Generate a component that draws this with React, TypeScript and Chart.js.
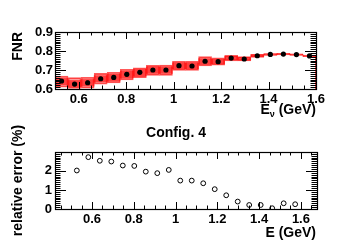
import React, { useEffect, useRef } from "react";
import { Chart, registerables } from "chart.js";
Chart.register(...registerables);

// ---------- data ----------
const energies = [0.5275, 0.5825, 0.6375, 0.6925, 0.7475, 0.8025, 0.8575, 0.9125, 0.9675, 1.0225,
  1.0775, 1.1325, 1.1875, 1.2425, 1.2975, 1.3525, 1.4075, 1.4625, 1.5175, 1.5725];
const fnr = [0.642, 0.626, 0.633, 0.654, 0.661, 0.677, 0.688, 0.700, 0.700, 0.723,
  0.721, 0.746, 0.744, 0.763, 0.758, 0.775, 0.782, 0.784, 0.781, 0.774];
const fnrErr = [0.009, 0.009, 0.009, 0.008, 0.008, 0.008, 0.007, 0.007, 0.007, 0.007,
  0.006, 0.006, 0.006, 0.005, 0.005, 0.004, 0.004, 0.004, 0.004, 0.004];
const bandOuterLo = [0.610, 0.603, 0.604, 0.625, 0.632, 0.648, 0.660, 0.672, 0.672, 0.698,
  0.698, 0.722, 0.726, 0.748, 0.748, 0.766, 0.777, 0.780, 0.777, 0.770];
const bandOuterHi = [0.668, 0.660, 0.662, 0.682, 0.688, 0.704, 0.712, 0.724, 0.726, 0.746,
  0.745, 0.770, 0.764, 0.777, 0.770, 0.783, 0.787, 0.788, 0.785, 0.778];
const bandInnerLo = [0.622, 0.612, 0.615, 0.636, 0.642, 0.658, 0.668, 0.682, 0.682, 0.706,
  0.706, 0.730, 0.732, 0.754, 0.752, 0.770, 0.779, 0.782, 0.779, 0.772];
const bandInnerHi = [0.656, 0.645, 0.650, 0.670, 0.678, 0.694, 0.704, 0.716, 0.716, 0.738,
  0.736, 0.760, 0.756, 0.772, 0.766, 0.780, 0.785, 0.786, 0.783, 0.776];
const relErr = [2.02, 2.72, 2.53, 2.49, 2.28, 2.26, 1.96, 1.88, 2.05, 1.49,
  1.49, 1.35, 1.04, 0.72, 0.39, 0.21, 0.21, 0.04, 0.30, 0.25];

const topXTicks = [0.6, 0.8, 1, 1.2, 1.4, 1.6];
const topYTicks = [0.6, 0.7, 0.8, 0.9];
const botXTicks = [0.6, 0.8, 1, 1.2, 1.4, 1.6];
const botYTicks = [0, 1, 2];

const TOP_X_RANGE = [0.5, 1.6];
const TOP_Y_RANGE = [0.6, 0.9];
const BOT_X_RANGE = [0.423, 1.677];
const BOT_Y_RANGE = [0, 2.99];

const FAMILY = '"Liberation Sans", Arial, Helvetica, sans-serif';
const fmt = (v: number) => String(Number(Number(v).toFixed(2)));

// ---------- plugins ----------
const framePlugin = {
  id: "rootFrame",
  afterDatasetsDraw(chart: any, _args: any, opts: any) {
    const { ctx, chartArea: a, scales } = chart;
    ctx.save();
    ctx.strokeStyle = "#000";
    ctx.lineWidth = 1;
    const draw = (scale: any, major: number, minor: number, majLen: number, minLen: number, horiz: boolean) => {
      const start = Math.ceil(scale.min / minor - 1e-6);
      const end = Math.floor(scale.max / minor + 1e-6);
      for (let k = start; k <= end; k++) {
        const v = k * minor;
        const isMajor = Math.abs(v / major - Math.round(v / major)) < 1e-6;
        const len = isMajor ? majLen : minLen;
        const p = Math.round(scale.getPixelForValue(v)) + 0.5;
        ctx.beginPath();
        if (horiz) {
          ctx.moveTo(p, a.bottom); ctx.lineTo(p, a.bottom - len);
          ctx.moveTo(p, a.top); ctx.lineTo(p, a.top + len);
        } else {
          ctx.moveTo(a.left, p); ctx.lineTo(a.left + len, p);
          ctx.moveTo(a.right, p); ctx.lineTo(a.right - len, p);
        }
        ctx.stroke();
      }
    };
    draw(scales.x, opts.xMajor, opts.xMinor, opts.xLen, opts.xLen / 2, true);
    draw(scales.y, opts.yMajor, opts.yMinor, opts.yLen, opts.yLen / 2, false);
    ctx.lineWidth = 1.2;
    ctx.strokeRect(Math.round(a.left) + 0.5, Math.round(a.top) + 0.5,
      Math.round(a.right - a.left), Math.round(a.bottom - a.top));
    ctx.restore();
  },
};

const textPlugin = {
  id: "rootText",
  afterDraw(chart: any, _args: any, opts: any) {
    const ctx = chart.ctx;
    for (const it of opts.items || []) {
      ctx.save();
      ctx.fillStyle = "#000";
      ctx.textBaseline = "alphabetic";
      ctx.translate(it.x, it.y);
      if (it.rotate) ctx.rotate(it.rotate);
      const parts = it.parts || [{ text: it.text, size: it.size || 14, dy: 0 }];
      const widths = parts.map((p: any) => {
        ctx.font = `bold ${p.size}px ${FAMILY}`;
        return ctx.measureText(p.text).width;
      });
      const total = widths.reduce((s: number, w: number) => s + w, 0);
      let x = it.align === "right" ? -total : it.align === "center" ? -total / 2 : 0;
      ctx.textAlign = "left";
      parts.forEach((p: any, i: number) => {
        ctx.font = `bold ${p.size}px ${FAMILY}`;
        ctx.fillText(p.text, x, p.dy || 0);
        x += widths[i];
      });
      ctx.restore();
    }
  },
};

const tickFont = { family: FAMILY, weight: "bold" as const, size: 13 };

function TopChart() {
  const ref = useRef<HTMLCanvasElement>(null);
  useEffect(() => {
    const pts = (lo: number[], hi: number[]) => energies.map((e, i) => ({ x: e, y: [lo[i], hi[i]] }));
    const chart = new Chart(ref.current!, {
      type: "bar",
      data: {
        datasets: [
          {
            type: "scatter" as any,
            data: energies.map((e, i) => ({ x: e, y: fnr[i] })),
            backgroundColor: "#000",
            borderColor: "#000",
            pointRadius: 2.6,
            pointBorderWidth: 0,
            order: 0,
          } as any,
          {
            data: energies.map((e, i) => ({ x: e, y: [fnr[i] - fnrErr[i], fnr[i] + fnrErr[i]] })),
            backgroundColor: "#000",
            barThickness: 2.5,
            grouped: false,
            order: 1,
          } as any,
          {
            type: "line" as any,
            data: [
              { x: TOP_X_RANGE[1], y: fnr[fnr.length - 1] },
              { x: TOP_X_RANGE[1], y: TOP_Y_RANGE[0] },
            ],
            borderColor: "#ff0000",
            borderWidth: 1.5,
            pointRadius: 0,
            order: 2,
          } as any,
          {
            data: pts(bandInnerLo, bandInnerHi),
            backgroundColor: "rgba(255,0,0,0.6)",
            borderColor: "rgba(255,0,0,0.9)",
            borderWidth: 0,
            grouped: false,
            barPercentage: 1,
            categoryPercentage: 1,
            order: 3,
          } as any,
          {
            data: pts(bandOuterLo, bandOuterHi),
            backgroundColor: "rgba(255,0,0,0.38)",
            borderColor: "rgba(255,90,90,1)",
            borderWidth: 1,
            borderSkipped: false,
            grouped: false,
            barPercentage: 1,
            categoryPercentage: 1,
            order: 4,
          } as any,
        ],
      },
      options: {
        animation: false,
        responsive: false,
        events: [],
        layout: { padding: { top: 32, right: 39, left: 0, bottom: 0 } },
        scales: {
          x: {
            type: "linear",
            min: TOP_X_RANGE[0],
            max: TOP_X_RANGE[1],
            offset: false,
            grid: { display: false, drawTicks: false },
            border: { display: false },
            afterBuildTicks: (s: any) => { s.ticks = topXTicks.map((v) => ({ value: v })); },
            afterFit: (s: any) => { s.height = 29; },
            ticks: { font: tickFont, color: "#000", padding: 3, maxRotation: 0, autoSkip: false, callback: (v: any) => fmt(v) },
          },
          y: {
            type: "linear",
            min: TOP_Y_RANGE[0],
            max: TOP_Y_RANGE[1],
            grid: { display: false, drawTicks: false },
            border: { display: false },
            afterBuildTicks: (s: any) => { s.ticks = topYTicks.map((v) => ({ value: v })); },
            afterFit: (s: any) => { s.width = 55; },
            ticks: { font: tickFont, color: "#000", padding: 2, autoSkip: false, callback: (v: any) => fmt(v) },
          },
        },
        plugins: {
          legend: { display: false },
          tooltip: { enabled: false },
          rootFrame: { xMajor: 0.2, xMinor: 0.05, yMajor: 0.1, yMinor: 0.01, xLen: 7, yLen: 11 },
          rootText: {
            items: [
              { text: "FNR", x: 22, y: 32, rotate: -Math.PI / 2, align: "right", size: 14 },
              {
                x: 316, y: 114, align: "right",
                parts: [
                  { text: "E", size: 14, dy: 0 },
                  { text: "\u03bd", size: 9, dy: 3 },
                  { text: " (GeV)", size: 14, dy: 0 },
                ],
              },
            ],
          },
        } as any,
      },
      plugins: [framePlugin, textPlugin],
    });
    return () => chart.destroy();
  }, []);
  return <canvas ref={ref} width={355} height={118} style={{ display: "block" }} />;
}

function BottomChart() {
  const ref = useRef<HTMLCanvasElement>(null);
  useEffect(() => {
    const chart = new Chart(ref.current!, {
      type: "scatter",
      data: {
        datasets: [
          {
            data: energies.map((e, i) => ({ x: e, y: relErr[i] })),
            backgroundColor: "rgba(0,0,0,0)",
            borderColor: "#000",
            pointRadius: 2.4,
            pointBorderWidth: 1,
          },
        ],
      },
      options: {
        animation: false,
        responsive: false,
        events: [],
        layout: { padding: { top: 34, right: 38, left: 0, bottom: 0 } },
        scales: {
          x: {
            type: "linear",
            min: BOT_X_RANGE[0],
            max: BOT_X_RANGE[1],
            grid: { display: false, drawTicks: false },
            border: { display: false },
            afterBuildTicks: (s: any) => { s.ticks = botXTicks.map((v) => ({ value: v })); },
            afterFit: (s: any) => { s.height = 33; },
            ticks: { font: tickFont, color: "#000", padding: 3, maxRotation: 0, autoSkip: false, callback: (v: any) => fmt(v) },
          },
          y: {
            type: "linear",
            min: BOT_Y_RANGE[0],
            max: BOT_Y_RANGE[1],
            grid: { display: false, drawTicks: false },
            border: { display: false },
            afterBuildTicks: (s: any) => { s.ticks = botYTicks.map((v) => ({ value: v })); },
            afterFit: (s: any) => { s.width = 55; },
            ticks: { font: tickFont, color: "#000", padding: 3, autoSkip: false, callback: (v: any) => fmt(v) },
          },
        },
        plugins: {
          legend: { display: false },
          tooltip: { enabled: false },
          rootFrame: { xMajor: 0.2, xMinor: 0.05, yMajor: 1, yMinor: 0.1, xLen: 7, yLen: 11 },
          rootText: {
            items: [
              { text: "Config. 4", x: 176, y: 19, align: "center", size: 14 },
              { text: "relative error (%)", x: 22, y: 62.5, rotate: -Math.PI / 2, align: "center", size: 14 },
              { text: "E (GeV)", x: 316, y: 118.5, align: "right", size: 14 },
            ],
          },
        } as any,
      },
      plugins: [framePlugin, textPlugin],
    });
    return () => chart.destroy();
  }, []);
  return <canvas ref={ref} width={355} height={124} style={{ display: "block" }} />;
}

export default function App() {
  return (
    <div style={{ position: "absolute", left: 0, top: 0, width: 355, height: 242, background: "#fff" }}>
      <TopChart />
      <BottomChart />
    </div>
  );
}
